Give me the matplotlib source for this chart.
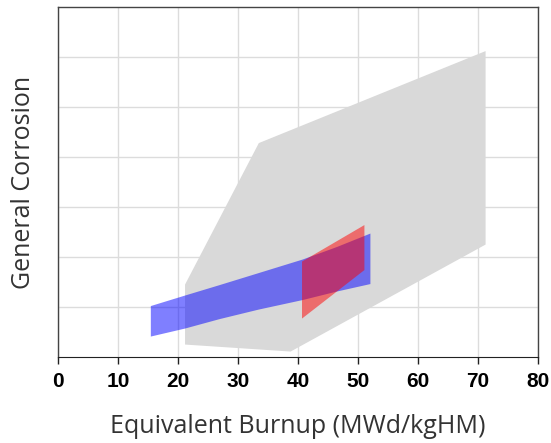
import matplotlib
matplotlib.use('Agg')
import matplotlib.pyplot as plt
from matplotlib.patches import Polygon

# envelope polygons (burnup, corrosion in arbitrary units)
gray_x = [21.2, 33.5, 71.3, 71.3, 38.8, 21.2]
gray_y = [1.45, 4.28, 6.12, 2.25, 0.11, 0.25]

blue_x = [15.5, 21.2, 27.0, 33.5, 40.8, 46.5, 52.1, 52.1, 46.5, 40.8, 33.5, 27.0, 21.2, 15.5]
blue_y = [1.02, 1.23, 1.44, 1.68, 1.95, 2.20, 2.47, 1.46, 1.31, 1.14, 0.95, 0.76, 0.57, 0.41]

red_x = [40.7, 51.1, 51.1, 40.7]
red_y = [1.91, 2.64, 1.74, 0.77]

xticks = [0, 10, 20, 30, 40, 50, 60, 70, 80]
ygrid = [1, 2, 3, 4, 5, 6]

fig = plt.figure(figsize=(5.51, 4.43), dpi=100)
ax = fig.add_axes([0.105, 0.194, 0.871, 0.790])

ax.add_patch(Polygon(list(zip(gray_x, gray_y)), closed=True, facecolor='#d9d9d9', edgecolor='none', zorder=2))
ax.add_patch(Polygon(list(zip(blue_x, blue_y)), closed=True, facecolor=(0, 0, 1, 0.5), edgecolor='none', zorder=3))
ax.add_patch(Polygon(list(zip(red_x, red_y)), closed=True, facecolor=(1, 0, 0, 0.5), edgecolor='none', zorder=4))

ax.set_xlim(0, 80)
ax.set_ylim(0, 7)
ax.set_xticks(xticks)
ax.set_yticks(ygrid)
ax.set_yticklabels([])
ax.tick_params(axis='y', length=0)
ax.tick_params(axis='x', length=5, width=1, color='#222222', pad=6)
for lab in ax.get_xticklabels():
    lab.set_fontfamily('Liberation Sans')
    lab.set_fontweight('bold')
    lab.set_fontsize(15)
ax.grid(True, color='#dcdcdc', linewidth=1, zorder=0)
ax.set_axisbelow(True)

for side in ['top', 'left', 'right']:
    ax.spines[side].set_color('#444444')
    ax.spines[side].set_linewidth(1)
ax.spines['bottom'].set_color('#222222')

ax.set_xlabel('Equivalent Burnup (MWd/kgHM)', fontsize=18, fontfamily='Open Sans', color='#333333', labelpad=16)
ax.set_ylabel('General Corrosion', fontsize=18, fontfamily='Open Sans', color='#333333', labelpad=12)

fig.savefig('out.png', dpi=100)
